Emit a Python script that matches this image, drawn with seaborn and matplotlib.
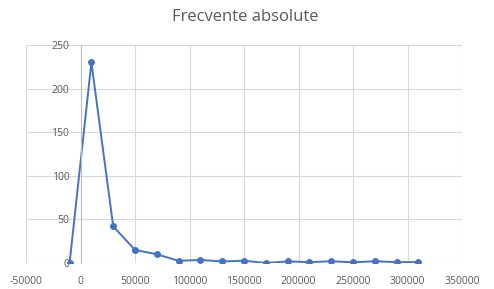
import matplotlib
matplotlib.use("Agg")
import matplotlib.pyplot as plt
import seaborn as sns
import pandas as pd

# Data
x_values = [-10000, 10000, 30000, 50000, 70000, 90000, 110000, 130000, 150000,
            170000, 190000, 210000, 230000, 250000, 270000, 290000, 310000]
frequencies = [0, 230, 42, 15, 10, 2.5, 3.5, 1.8, 2.6, 0, 1.8, 1, 2, 0.8, 2, 1, 1]
x_ticks = [-50000, 0, 50000, 100000, 150000, 200000, 250000, 300000, 350000]
y_ticks = [0, 50, 100, 150, 200, 250]
title = "Frecvente absolute"

df = pd.DataFrame({"x": x_values, "y": frequencies})

sns.set_style("white")
plt.rcParams['font.family'] = ['Open Sans', 'DejaVu Sans']

fig = plt.figure(figsize=(4.94, 2.89), dpi=100)
ax = fig.add_axes([26/494, 1-263/289, (462-26)/494, (263-45)/289])

sns.lineplot(data=df, x="x", y="y", ax=ax, color="#4472C4", linewidth=1.4,
             marker="o", markersize=5, markeredgewidth=0, markeredgecolor="#4472C4")

ax.set_xlim(-50000, 350000)
ax.set_ylim(0, 250)
ax.set_xticks(x_ticks)
ax.set_yticks(y_ticks)
ax.set_xticklabels([str(v) for v in x_ticks])
ax.set_yticklabels([str(v) for v in y_ticks])
ax.grid(True, color="#D9D9D9", linewidth=0.8)
ax.set_axisbelow(True)

for s in ["top", "right", "bottom"]:
    ax.spines[s].set_visible(False)
ax.spines["left"].set_position(("data", 0))
ax.spines["left"].set_color("#BFBFBF")
ax.spines["left"].set_linewidth(0.8)

ax.tick_params(axis="both", length=0, labelsize=7.5, colors="#595959")
ax.tick_params(axis="y", pad=8)
ax.tick_params(axis="x", pad=9)
ax.set_xlabel("")
ax.set_ylabel("")

fig.text(0.497, 0.94, title, ha="center", va="center", fontsize=12, color="#595959")

fig.savefig("out.png", dpi=100, facecolor="white")
